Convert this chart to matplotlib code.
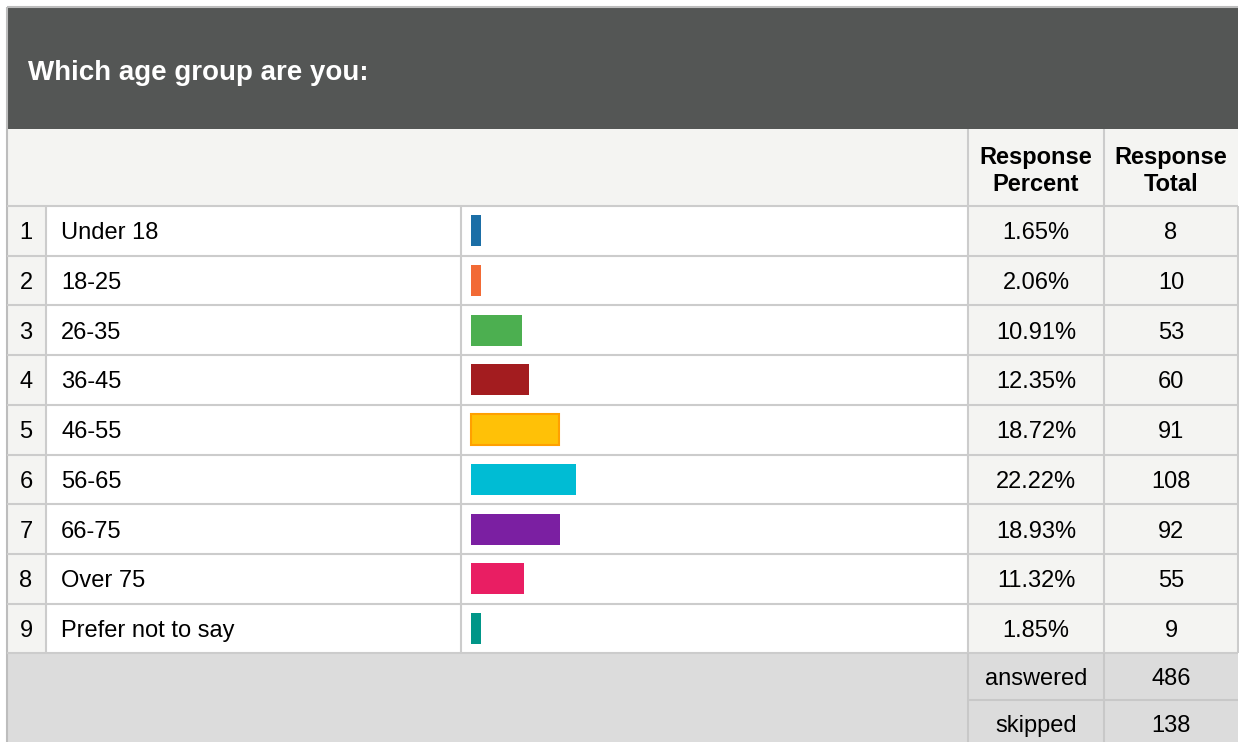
import matplotlib
matplotlib.use("Agg")
import matplotlib.pyplot as plt
from matplotlib.patches import Rectangle

# survey answers
age_groups = ["Under 18", "18-25", "26-35", "36-45", "46-55",
              "56-65", "66-75", "Over 75", "Prefer not to say"]
percents = [1.65, 2.06, 10.91, 12.35, 18.72, 22.22, 18.93, 11.32, 1.85]
totals = [8, 10, 53, 60, 91, 108, 92, 55, 9]
answered = 486
skipped = 138
question = "Which age group are you:"

bar_colors = ["#1b6ea6", "#f26a35", "#4caf50", "#a31c1f", "#ffc107",
              "#00bcd4", "#7b1fa2", "#e91e63", "#009688"]
bar_edges = [None, None, None, None, "#ffa000", None, None, None, None]

# layout in pixels
W, H = 1239, 742
LEFT, RIGHT = 7, 1238
COLS = [7, 46, 461, 968, 1104, 1238]
HEAD_TOP, HEAD_BOT = 7, 129
COLHEAD_BOT = 206
ROW_H = 49.7
FOOT_ROWS = [653, 700, 747]
BAR_X0 = 471
PX_PER_PCT = 4.72
MIN_BAR = 10
BAR_H = 31
DY = 2.5  # nudge text down to sit like the row baseline

GRID = "#cccccc"
LIGHT = "#f4f4f2"
FOOT = "#dcdcdc"
DARK = "#545655"
FONT = "Liberation Sans"

plt.rcParams["font.family"] = [FONT, "DejaVu Sans"]

fig = plt.figure(figsize=(W / 100, H / 100), dpi=100)
ax = fig.add_axes([0, 0, 1, 1])
ax.set_xlim(0, W)
ax.set_ylim(H, 0)
ax.axis("off")


def cell(x0, y0, x1, y1, color):
    ax.add_patch(Rectangle((x0, y0), x1 - x0, y1 - y0, facecolor=color,
                           edgecolor="none", zorder=1))


def hline(y, x0, x1, lw=1.5, color=GRID):
    ax.plot([x0, x1], [y, y], color=color, lw=lw, zorder=3,
            solid_capstyle="butt")


def vline(x, y0, y1, lw=1.5, color=GRID):
    ax.plot([x, x], [y0, y1], color=color, lw=lw, zorder=3,
            solid_capstyle="butt")


def label(x, y, s, ha="center", **kw):
    ax.text(x, y + DY, s, fontsize=17, ha=ha, va="center", zorder=4, **kw)


# title band
cell(LEFT, HEAD_TOP, RIGHT, HEAD_BOT, DARK)
ax.text(28, 70 + DY, question, color="white", fontsize=20, fontweight="bold",
        va="center", ha="left", zorder=4)
hline(HEAD_TOP - 0.5, LEFT, RIGHT, lw=1.5, color="#bdbdbd")
vline(LEFT - 0.5, HEAD_TOP, H, lw=1.5, color="#bdbdbd")

# column header row
cell(LEFT, HEAD_BOT, RIGHT, COLHEAD_BOT, LIGHT)
for cx, (l1, l2) in [((COLS[3] + COLS[4]) / 2, ("Response", "Percent")),
                     ((COLS[4] + COLS[5]) / 2, ("Response", "Total"))]:
    label(cx, 155, l1, fontweight="bold")
    label(cx, 182, l2, fontweight="bold")
vline(COLS[3], HEAD_BOT, COLHEAD_BOT)
vline(COLS[4], HEAD_BOT, COLHEAD_BOT)

# answer rows
n = len(age_groups)
row_tops = [COLHEAD_BOT + i * ROW_H for i in range(n)]
body_bot = COLHEAD_BOT + n * ROW_H
cell(COLS[0], COLHEAD_BOT, COLS[1], body_bot, LIGHT)
cell(COLS[1], COLHEAD_BOT, COLS[3], body_bot, "white")
cell(COLS[3], COLHEAD_BOT, COLS[5], body_bot, LIGHT)

centers = [t + ROW_H / 2 for t in row_tops]
widths = [max(p * PX_PER_PCT, MIN_BAR) for p in percents]
bars = ax.barh(centers, widths, left=BAR_X0, height=BAR_H, color=bar_colors,
               zorder=2)
for b, ec in zip(bars, bar_edges):
    if ec:
        b.set_edgecolor(ec)
        b.set_linewidth(1.5)

for i, (lab, p, t) in enumerate(zip(age_groups, percents, totals)):
    y = centers[i]
    label(26, y, str(i + 1))
    label(61, y, lab, ha="left")
    label((COLS[3] + COLS[4]) / 2, y, f"{p:.2f}%")
    label((COLS[4] + COLS[5]) / 2, y, str(t))

for t in row_tops + [body_bot]:
    hline(t, LEFT, RIGHT)
for x in COLS[1:]:
    vline(x, COLHEAD_BOT, body_bot)

# footer with answered / skipped counts
cell(LEFT, FOOT_ROWS[0], RIGHT, H, FOOT)
for (y0, y1), lab, val in [((FOOT_ROWS[0], FOOT_ROWS[1]), "answered", answered),
                           ((FOOT_ROWS[1], FOOT_ROWS[2]), "skipped", skipped)]:
    y = (y0 + y1) / 2
    label((COLS[3] + COLS[4]) / 2, y, lab)
    label((COLS[4] + COLS[5]) / 2, y, str(val))
hline(FOOT_ROWS[1], COLS[3], RIGHT, color="#c8c8c8")
vline(COLS[3], FOOT_ROWS[0], H, color="#c8c8c8")
vline(COLS[4], FOOT_ROWS[0], H, color="#c8c8c8")

fig.savefig("out.png", dpi=100)
